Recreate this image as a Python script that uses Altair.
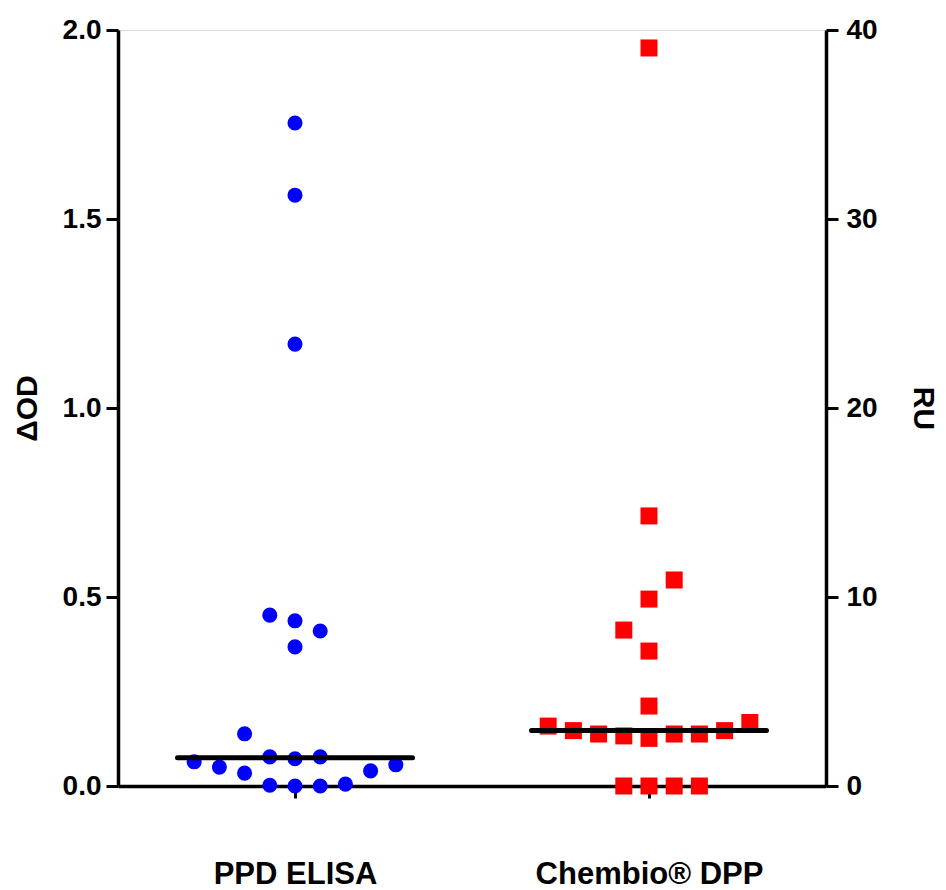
import altair as alt
import pandas as pd

# ---- data ----
categories = ["PPD ELISA", "Chembio® DPP"]

elisa_od = [1.754, 1.563, 1.169, 0.452, 0.437, 0.410, 0.368, 0.138,
            0.077, 0.072, 0.077, 0.064, 0.050, 0.034, 0.040, 0.056,
            0.002, 0.000, 0.000, 0.005]
elisa_slot = [0, 0, 0, -1, 0, 1, 0, -2,
              -1, 0, 1, -4, -3, -2, 3, 4,
              -1, 0, 1, 2]

dpp_ru = [39.05, 14.29, 10.9, 9.89, 8.25, 7.14, 4.23, 3.17,
          2.93, 2.75, 2.65, 2.52, 2.75, 2.75, 2.93, 3.36,
          0.0, 0.0, 0.0, 0.0]
dpp_slot = [0, 0, 1, 0, -1, 0, 0, -4,
            -3, -2, -1, 0, 1, 2, 3, 4,
            -1, 0, 1, 2]

od_ticks = [0, 0.5, 1.0, 1.5, 2.0]
ru_ticks = [0, 10, 20, 30, 40]

# ---- layout / style constants ----
STEP = 0.0712      # horizontal spacing of scattered points (x units)
HALF = 0.332       # half-length of the median bar (x units)
FONT = "Liberation Sans"

df_b = pd.DataFrame({"value": elisa_od, "slot": elisa_slot, "pos": 0})
df_r = pd.DataFrame({"value": dpp_ru, "slot": dpp_slot, "pos": 1})

label_expr = f"datum.value == 0 ? '{categories[0]}' : '{categories[1]}'"

xscale = alt.Scale(domain=[-0.5, 1.5], nice=False, zero=False)
xaxis = alt.Axis(values=[0, 1], labelExpr=label_expr, title=None, grid=False,
                 domainColor="black", domainWidth=3.5, tickColor="black",
                 tickWidth=3, tickSize=12, labelPadding=61, labelFont=FONT,
                 labelFontSize=31, labelFontWeight="bold", labelColor="black",
                 labelFlush=False, labelLimit=0, labelOverlap=False)

common_y_axis = dict(grid=False, domainColor="black", domainWidth=3.5,
                     tickColor="black", tickWidth=3, tickSize=12,
                     labelFont=FONT, labelFontSize=28, labelFontWeight="bold",
                     labelColor="black", titleFont=FONT, titleFontSize=30,
                     titleFontWeight="bold", titleColor="black")

yl_scale = alt.Scale(domain=[0, 2], nice=False, zero=True)
yl_axis = alt.Axis(values=od_ticks, format=".1f", title="ΔOD", orient="left",
                   labelPadding=5, titlePadding=20, **common_y_axis)

yr_scale = alt.Scale(domain=[0, 40], nice=False, zero=True)
yr_axis = alt.Axis(values=ru_ticks, format="d", title="RU", orient="right",
                   labelPadding=8, titlePadding=30, **common_y_axis)

pts_b = alt.Chart(df_b).transform_calculate(
    xpos=f"datum.pos + datum.slot * {STEP}"
).mark_circle(color="#0000FF", opacity=1, size=227).encode(
    x=alt.X("xpos:Q", scale=xscale, axis=xaxis),
    y=alt.Y("value:Q", scale=yl_scale, axis=yl_axis),
)
med_b = alt.Chart(df_b).transform_aggregate(
    med="median(value)", groupby=["pos"]
).transform_calculate(
    x0=f"datum.pos - {HALF}", x1=f"datum.pos + {HALF}"
).mark_rule(color="black", strokeWidth=5, strokeCap="round").encode(
    x=alt.X("x0:Q", scale=xscale, axis=xaxis),
    x2="x1:Q",
    y=alt.Y("med:Q", scale=yl_scale, axis=yl_axis),
)

pts_r = alt.Chart(df_r).transform_calculate(
    xpos=f"datum.pos + datum.slot * {STEP}"
).mark_square(color="#FF0000", opacity=1, size=289).encode(
    x=alt.X("xpos:Q", scale=xscale, axis=xaxis),
    y=alt.Y("value:Q", scale=yr_scale, axis=yr_axis),
)
med_r = alt.Chart(df_r).transform_aggregate(
    med="median(value)", groupby=["pos"]
).transform_calculate(
    x0=f"datum.pos - {HALF}", x1=f"datum.pos + {HALF}"
).mark_rule(color="black", strokeWidth=5, strokeCap="round").encode(
    x=alt.X("x0:Q", scale=xscale, axis=xaxis),
    x2="x1:Q",
    y=alt.Y("med:Q", scale=yr_scale, axis=yr_axis),
)

left = alt.layer(pts_b, med_b)
right = alt.layer(pts_r, med_r)

chart = alt.layer(left, right).resolve_scale(y="independent").properties(
    width=708, height=756,
    autosize=alt.AutoSizeParams(type="none"),
    padding={"left": 118, "top": 30, "right": 120, "bottom": 104},
).configure_view(stroke=None).configure(background="white")

chart.save("out.html", embed_options={"renderer": "svg", "actions": False})
